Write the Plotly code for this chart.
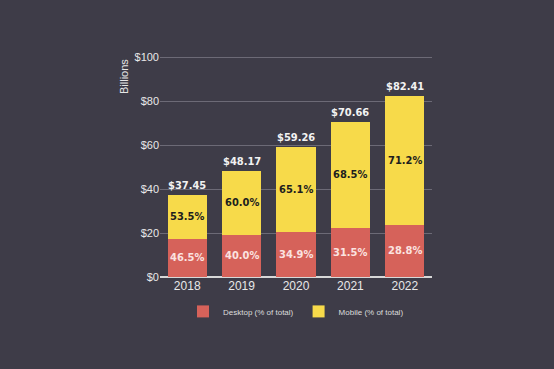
import plotly.graph_objects as go

years = ["2018", "2019", "2020", "2021", "2022"]
totals = [37.45, 48.17, 59.26, 70.66, 82.41]
desktop_pct = [46.5, 40.0, 34.9, 31.5, 28.8]
mobile_pct = [53.5, 60.0, 65.1, 68.5, 71.2]
y_ticks = [0, 20, 40, 60, 80, 100]
y_tick_labels = ["$0", "$20", "$40", "$60", "$80", "$100"]

desktop_vals = [round(t * d / 100, 3) for t, d in zip(totals, desktop_pct)]
mobile_vals = [round(t - d, 3) for t, d in zip(totals, desktop_vals)]
pos = list(range(len(years)))

BG = "#3e3c48"
FONT = "DejaVu Sans Condensed"

fig = go.Figure()
fig.add_trace(go.Bar(x=pos, y=desktop_vals, name="Desktop (% of total)",
                     marker=dict(color="#d6625a", line=dict(width=0)), width=0.72))
fig.add_trace(go.Bar(x=pos, y=mobile_vals, name="Mobile (% of total)",
                     marker=dict(color="#f7da4a", line=dict(width=0)), width=0.72))

for p, t, d, dv, m, mv in zip(pos, totals, desktop_pct, desktop_vals, mobile_pct, mobile_vals):
    fig.add_annotation(x=p, y=t, text=f"<b>${t:.2f}</b>", showarrow=False,
                       yanchor="bottom", yshift=1,
                       font=dict(color="#f2f2f2", size=11, family=FONT))
    fig.add_annotation(x=p, y=dv / 2, text=f"<b>{d:.1f}%</b>", showarrow=False,
                       font=dict(color="#fbe3e0", size=11, family=FONT))
    fig.add_annotation(x=p, y=dv + mv / 2, text=f"<b>{m:.1f}%</b>", showarrow=False,
                       font=dict(color="#1e1e1e", size=11, family=FONT))

fig.add_annotation(xref="paper", yref="paper", x=-0.135, y=0.99,
                   text="Billions", textangle=-90, showarrow=False,
                   xanchor="center", yanchor="top",
                   font=dict(color="#e6e6e6", size=11, family="Liberation Sans"))

fig.update_layout(
    width=554, height=369,
    margin=dict(l=160, r=122, t=55, b=92),
    paper_bgcolor=BG, plot_bgcolor=BG,
    barmode="stack",
    showlegend=True,
    legend=dict(orientation="h", x=0.5, xanchor="center", y=-0.155, yanchor="middle",
                traceorder="normal",
                font=dict(color="#dcdcdc", size=8, family="Liberation Sans")),
    xaxis=dict(type="linear", range=[-0.5, len(years) - 0.5], autorange=False,
               tickmode="array", tickvals=pos, ticktext=years,
               showgrid=False, zeroline=False, ticks="", showline=False,
               tickfont=dict(color="#e8e8e8", size=12, family="Liberation Sans")),
    yaxis=dict(range=[0, 101], autorange=False, tickmode="array",
               tickvals=y_ticks, ticktext=y_tick_labels,
               gridcolor="#6c6a76", gridwidth=1,
               zeroline=True, zerolinecolor="#d8d8d8", zerolinewidth=2,
               tickfont=dict(color="#e8e8e8", size=11, family="Liberation Sans")),
)

fig.write_html("out.html", config={"displayModeBar": False},
               post_script="document.body.style.margin='0';document.body.style.background='%s';" % BG)
